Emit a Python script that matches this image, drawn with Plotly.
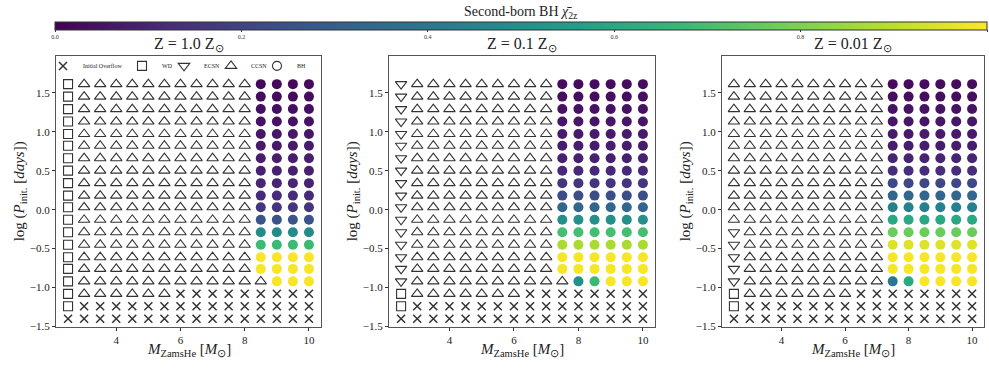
import plotly.graph_objects as go

FONT = "Liberation Serif"

# ---------------- data ----------------
masses = [2.5, 3.0, 3.5, 4.0, 4.5, 5.0, 5.5, 6.0, 6.5, 7.0, 7.5, 8.0, 8.5, 9.0, 9.5, 10.0]
# log10 initial period, rows from top to bottom
log_p = [1.61, 1.45, 1.29, 1.13, 0.97, 0.82, 0.66, 0.50, 0.34, 0.18,
         0.03, -0.13, -0.29, -0.45, -0.61, -0.76, -0.92, -1.08, -1.24, -1.40]

# outcome codes per row (top -> bottom), one char per mass column
# X = initial overflow, W = WD, E = ECSN, C = CCSN, B = BH
outcome_z1 = [
    "WCCCCCCCCCCCBBBB",
    "WCCCCCCCCCCCBBBB",
    "WCCCCCCCCCCCBBBB",
    "WCCCCCCCCCCCBBBB",
    "WCCCCCCCCCCCBBBB",
    "WCCCCCCCCCCCBBBB",
    "WCCCCCCCCCCCBBBB",
    "WCCCCCCCCCCCBBBB",
    "WCCCCCCCCCCCBBBB",
    "WCCCCCCCCCCCBBBB",
    "WCCCCCCCCCCCBBBB",
    "WCCCCCCCCCCCBBBB",
    "WCCCCCCCCCCCBBBB",
    "WCCCCCCCCCCCBBBB",
    "WCCCCCCCCCCCBBBB",
    "WCCCCCCCCCCCBBBB",
    "WCCCCCCCCCCCCBBB",
    "WCCCCCCXXXXXXXXX",
    "WXXXXXXXXXXXXXXX",
    "XXXXXXXXXXXXXXXX",
]
outcome_z01 = [
    "ECCCCCCCCCBBBBBB",
    "ECCCCCCCCCBBBBBB",
    "ECCCCCCCCCBBBBBB",
    "ECCCCCCCCCBBBBBB",
    "ECCCCCCCCCBBBBBB",
    "ECCCCCCCCCBBBBBB",
    "ECCCCCCCCCBBBBBB",
    "ECCCCCCCCCBBBBBB",
    "ECCCCCCCCCBBBBBB",
    "ECCCCCCCCCBBBBBB",
    "ECCCCCCCCCBBBBBB",
    "ECCCCCCCCCBBBBBB",
    "ECCCCCCCCCBBBBBB",
    "ECCCCCCCCCBBBBBB",
    "ECCCCCCCCCBBBBBB",
    "ECCCCCCCCCBBBBBB",
    "ECCCCCCCCCCBBBBB",
    "WCCCCCCCXXXXXXXX",
    "WXXXXXXXXXXXXXXX",
    "XXXXXXXXXXXXXXXX",
]
outcome_z001 = [
    "CCCCCCCCCCBBBBBB",
    "CCCCCCCCCCBBBBBB",
    "CCCCCCCCCCBBBBBB",
    "CCCCCCCCCCBBBBBB",
    "CCCCCCCCCCBBBBBB",
    "CCCCCCCCCCBBBBBB",
    "CCCCCCCCCCBBBBBB",
    "CCCCCCCCCCBBBBBB",
    "CCCCCCCCCCBBBBBB",
    "CCCCCCCCCCBBBBBB",
    "CCCCCCCCCCBBBBBB",
    "CCCCCCCCCCBBBBBB",
    "ECCCCCCCCCBBBBBB",
    "ECCCCCCCCCBBBBBB",
    "ECCCCCCCCCBBBBBB",
    "ECCCCCCCCCBBBBBB",
    "ECCCCCCCCCBBBBBB",
    "WCCCCCCCXXXXXXXX",
    "WXXXXXXXXXXXXXXX",
    "XXXXXXXXXXXXXXXX",
]

# second-born BH spin, one list per row holding the BH cells (left -> right)
chi_z1 = [
    [0.02, 0.02, 0.02, 0.02],
    [0.03, 0.03, 0.03, 0.03],
    [0.04, 0.04, 0.04, 0.04],
    [0.05, 0.05, 0.05, 0.05],
    [0.06, 0.06, 0.06, 0.06],
    [0.07, 0.07, 0.07, 0.07],
    [0.08, 0.08, 0.08, 0.08],
    [0.09, 0.09, 0.09, 0.09],
    [0.10, 0.10, 0.10, 0.10],
    [0.12, 0.12, 0.12, 0.12],
    [0.15, 0.15, 0.15, 0.15],
    [0.26, 0.26, 0.26, 0.26],
    [0.48, 0.48, 0.48, 0.48],
    [0.68, 0.68, 0.68, 0.68],
    [0.99, 0.99, 0.99, 0.99],
    [0.99, 0.99, 0.99, 0.99],
    [0.99, 0.99, 0.99],
]
chi_z01 = [
    [0.03, 0.03, 0.03, 0.03, 0.03, 0.03],
    [0.04, 0.04, 0.04, 0.04, 0.04, 0.04],
    [0.05, 0.05, 0.05, 0.05, 0.05, 0.05],
    [0.06, 0.06, 0.06, 0.06, 0.06, 0.06],
    [0.07, 0.07, 0.07, 0.07, 0.07, 0.07],
    [0.08, 0.08, 0.08, 0.08, 0.08, 0.08],
    [0.09, 0.09, 0.09, 0.09, 0.09, 0.09],
    [0.11, 0.11, 0.11, 0.11, 0.11, 0.11],
    [0.15, 0.15, 0.15, 0.15, 0.15, 0.15],
    [0.24, 0.24, 0.24, 0.24, 0.24, 0.24],
    [0.33, 0.33, 0.33, 0.33, 0.33, 0.33],
    [0.50, 0.50, 0.50, 0.50, 0.50, 0.50],
    [0.70, 0.70, 0.70, 0.70, 0.70, 0.70],
    [0.87, 0.87, 0.87, 0.87, 0.87, 0.87],
    [0.99, 0.99, 0.99, 0.99, 0.99, 0.99],
    [0.99, 0.99, 0.99, 0.99, 0.99, 0.99],
    [0.50, 0.68, 0.99, 0.99, 0.99],
]
chi_z001 = [
    [0.03, 0.03, 0.03, 0.03, 0.03, 0.03],
    [0.04, 0.04, 0.04, 0.04, 0.04, 0.04],
    [0.05, 0.05, 0.05, 0.05, 0.05, 0.05],
    [0.06, 0.06, 0.06, 0.06, 0.06, 0.06],
    [0.07, 0.07, 0.07, 0.07, 0.07, 0.07],
    [0.08, 0.08, 0.08, 0.08, 0.08, 0.08],
    [0.10, 0.10, 0.10, 0.10, 0.10, 0.10],
    [0.13, 0.13, 0.13, 0.13, 0.13, 0.13],
    [0.22, 0.22, 0.22, 0.22, 0.22, 0.22],
    [0.33, 0.33, 0.33, 0.33, 0.33, 0.33],
    [0.44, 0.44, 0.44, 0.44, 0.44, 0.44],
    [0.60, 0.60, 0.60, 0.60, 0.60, 0.60],
    [0.77, 0.77, 0.77, 0.77, 0.77, 0.77],
    [0.95, 0.95, 0.95, 0.95, 0.95, 0.95],
    [0.99, 0.99, 0.99, 0.99, 0.99, 0.99],
    [0.99, 0.99, 0.99, 0.99, 0.99, 0.99],
    [0.40, 0.61, 0.99, 0.99, 0.99, 0.99],
]

panel_titles = ["Z = 1.0 Z<sub>⊙</sub>", "Z = 0.1 Z<sub>⊙</sub>", "Z = 0.01 Z<sub>⊙</sub>"]
x_ticks = [4, 6, 8, 10]
y_ticks = [-1.5, -1.0, -0.5, 0.0, 0.5, 1.0, 1.5]
cbar_ticks = [0.0, 0.2, 0.4, 0.6, 0.8, 1.0]
cbar_labels = ["0.0", "0.2", "0.4", "0.6", "0.8", "1."]

legend_names = {"X": "Initial Overflow", "W": "WD", "E": "ECSN", "C": "CCSN", "B": "BH"}

# ---------------- styles ----------------
W, H = 989, 368
INK = "#333333"
sym = {
    "X": dict(symbol="x-thin-open", size=8, line=dict(width=1.5, color=INK), color=INK),
    "W": dict(symbol="square-open", size=9, line=dict(width=1.1, color=INK), color=INK),
    "E": dict(symbol="triangle-down-open", size=10, line=dict(width=1.1, color=INK), color=INK),
    "C": dict(symbol="triangle-up-open", size=10, line=dict(width=1.1, color=INK), color=INK),
}

panel_px = [(56, 321), (389, 655), (722, 984)]
top_px, bot_px = 57, 332
ydom = [1 - bot_px / H, 1 - top_px / H]

outcomes = [outcome_z1, outcome_z01, outcome_z001]
chis = [chi_z1, chi_z01, chi_z001]

fig = go.Figure()

for p in range(3):
    xa = "x" if p == 0 else f"x{p+1}"
    ya = "y" if p == 0 else f"y{p+1}"
    grid = outcomes[p]
    for code in ["X", "W", "E", "C"]:
        xs, ys = [], []
        for r, row in enumerate(grid):
            for c, ch in enumerate(row):
                if ch == code:
                    xs.append(masses[c])
                    ys.append(log_p[r])
        if xs:
            fig.add_trace(go.Scatter(x=xs, y=ys, mode="markers", xaxis=xa, yaxis=ya,
                                     marker=sym[code], showlegend=False, hoverinfo="skip"))
    bx, by, bc = [], [], []
    for r, row in enumerate(grid):
        k = 0
        for c, ch in enumerate(row):
            if ch == "B":
                bx.append(masses[c])
                by.append(log_p[r])
                bc.append(chis[p][r][k])
                k += 1
    marker = dict(symbol="circle", size=10, color=bc, colorscale="Viridis", cmin=0, cmax=1,
                  line=dict(width=0), showscale=(p == 0))
    if p == 0:
        marker["colorbar"] = dict(
            orientation="h", x=55 / W, xanchor="left", y=1 - 22 / H, yanchor="top",
            len=932 / W, lenmode="fraction", thickness=8, thicknessmode="pixels",
            outlinewidth=1, outlinecolor=INK, xpad=0, ypad=0,
            tickvals=cbar_ticks, ticktext=cbar_labels, ticks="outside", ticklen=2,
            tickcolor=INK, tickfont=dict(size=6, family=FONT, color="#333"),
            title=dict(text=""))
    fig.add_trace(go.Scatter(x=bx, y=by, mode="markers", xaxis=xa, yaxis=ya,
                             marker=marker, showlegend=False, hoverinfo="skip"))

# legend entries (panel 1 only), each in its own legend box for placement
leg_sym_px = [65, 144, 186, 233, 279]
leg_names_order = ["X", "W", "E", "C", "B"]
for i, code in enumerate(leg_names_order):
    m = dict(sym[code]) if code != "B" else dict(symbol="circle-open", size=9,
                                                 line=dict(width=1.1, color=INK), color=INK)
    lname = "legend" if i == 0 else f"legend{i+1}"
    fig.add_trace(go.Scatter(x=[None], y=[None], mode="markers", marker=m,
                             name=legend_names[code], showlegend=True, legend=lname))

axis_common = dict(showline=True, mirror=True, linecolor="#555", linewidth=1,
                   ticks="outside", ticklen=3, tickcolor=INK, showgrid=False,
                   zeroline=False, tickfont=dict(size=11, family=FONT, color="#222"))

layout = dict(width=W, height=H, margin=dict(l=0, r=0, t=0, b=0),
              paper_bgcolor="white", plot_bgcolor="white",
              font=dict(family=FONT, color="#222"))

for p in range(3):
    sx = "" if p == 0 else str(p + 1)
    l, r = panel_px[p]
    layout[f"xaxis{sx}"] = dict(domain=[l / W, r / W], range=[2.125, 10.375],
                                tickvals=x_ticks, anchor=f"y{sx}", **axis_common)
    layout[f"yaxis{sx}"] = dict(domain=ydom, range=[-1.5, 1.97], tickvals=y_ticks,
                                tickformat=".1f", anchor=f"x{sx}", **axis_common)

for i in range(5):
    lname = "legend" if i == 0 else f"legend{i+1}"
    layout[lname] = dict(x=(leg_sym_px[i] - 22) / W, xanchor="left", y=1 - 67 / H,
                         yanchor="middle", orientation="h", itemwidth=30,
                         bgcolor="rgba(0,0,0,0)", borderwidth=0,
                         font=dict(size=6, family=FONT, color="#222"))

ann = []
ann.append(dict(text="Second-born BH <i>χ̄</i><sub>2z</sub>", x=521 / W, y=1 - 13 / H,
                xref="paper", yref="paper", xanchor="center", yanchor="middle",
                showarrow=False, font=dict(size=14, family=FONT, color="#222")))
for p in range(3):
    l, r = panel_px[p]
    cx = (l + r) / 2 / W
    ann.append(dict(text=panel_titles[p], x=cx, y=1 - 45 / H, xref="paper", yref="paper",
                    xanchor="center", yanchor="middle", showarrow=False,
                    font=dict(size=16, family=FONT, color="#222")))
    ann.append(dict(text="<i>M</i><sub>ZamsHe</sub> [<i>M</i><sub>⊙</sub>]", x=cx, y=1 - 356 / H,
                    xref="paper", yref="paper", xanchor="center", yanchor="middle",
                    showarrow=False, font=dict(size=15, family=FONT, color="#222")))
    ann.append(dict(text="log (<i>P</i><sub>init.</sub> [<i>days</i>])", x=(l - 36) / W,
                    y=(ydom[0] + ydom[1]) / 2, xref="paper", yref="paper",
                    xanchor="center", yanchor="middle", textangle=-90, showarrow=False,
                    font=dict(size=15, family=FONT, color="#222")))
layout["annotations"] = ann

fig.update_layout(**layout)
fig.write_html("out.html")
